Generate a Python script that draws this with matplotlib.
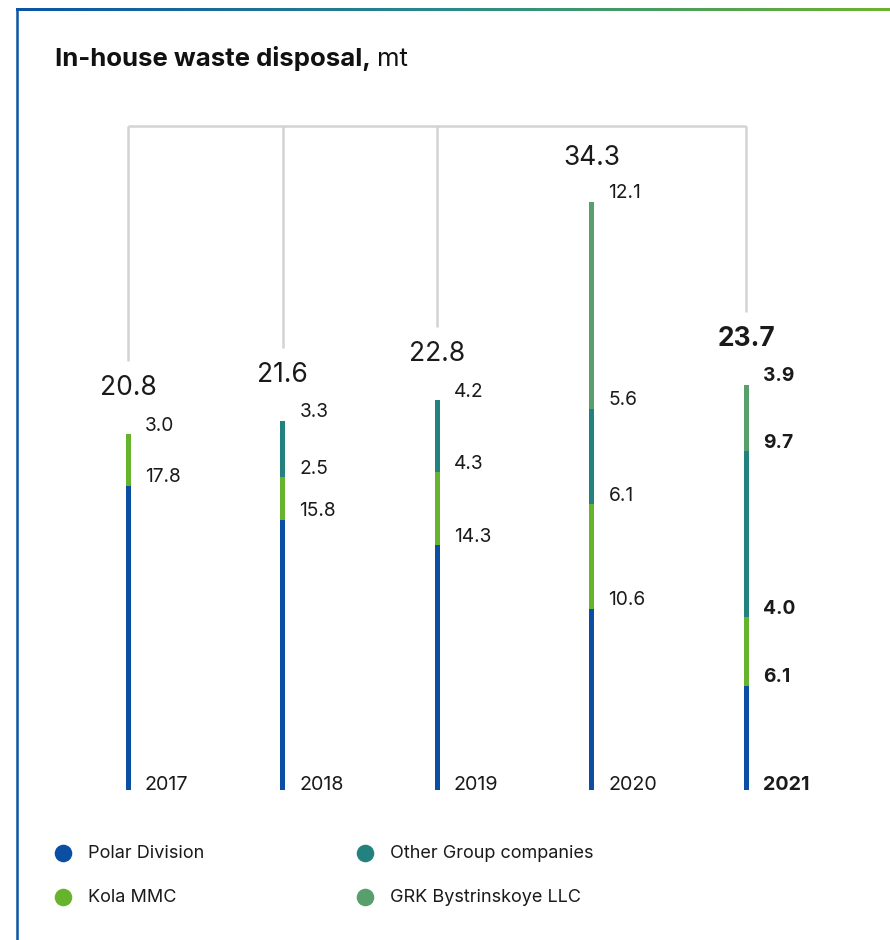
import numpy as np
import matplotlib.pyplot as plt
from matplotlib.colors import LinearSegmentedColormap

plt.rcParams['font.family'] = ['Inter', 'DejaVu Sans']

years = ["2017", "2018", "2019", "2020", "2021"]
polar = [17.8, 15.8, 14.3, 10.6, 6.1]
kola = [3.0, 2.5, 4.3, 6.1, 4.0]
other = [0.0, 3.3, 4.2, 5.6, 9.7]
grk = [0.0, 0.0, 0.0, 12.1, 3.9]
totals = [20.8, 21.6, 22.8, 34.3, 23.7]

series = [
    ("Polar Division", polar, "#0a4fa1"),
    ("Kola MMC", kola, "#66b32e"),
    ("Other Group companies", other, "#23827f"),
    ("GRK Bystrinskoye LLC", grk, "#589f6d"),
]

W, H = 890, 940
fig = plt.figure(figsize=(W / 100, H / 100), dpi=100)

# chart axes: y=0 at pixel 790, 17.1 px per unit
ax_left, ax_right, ax_top, ax_bot = 50, 850, 100, 790
ax = fig.add_axes([ax_left / W, 1 - ax_bot / H, (ax_right - ax_left) / W, (ax_bot - ax_top) / H])
px_unit = 17.1
spacing = 154.5
ax.set_ylim(0, (ax_bot - ax_top) / px_unit)
ax.set_xlim(-(128 - ax_left) / spacing, (ax_right - 128) / spacing)
ax.axis("off")

x = np.arange(len(years))
bar_w = 5 / spacing

# connector lines
top_y = (ax_bot - 126) / px_unit
ax.plot([x[0], x[-1]], [top_y, top_y], color="#d3d3d3", lw=1.8, solid_capstyle="butt", zorder=1)
for i, t in enumerate(totals):
    label_y = t + 46 / px_unit
    end_y = label_y + 27 / px_unit
    if end_y < top_y - 0.5:
        ax.plot([x[i], x[i]], [top_y, end_y], color="#d3d3d3", lw=1.8, solid_capstyle="butt", zorder=1)

bottom = np.zeros(len(years))
for name, vals, col in series:
    vals = np.array(vals)
    ax.bar(x, vals, bar_w, bottom=bottom, color=col, linewidth=0, zorder=2)
    for i, v in enumerate(vals):
        if v > 0:
            bold = "bold" if i == len(years) - 1 else "normal"
            ax.annotate(f"{v:.1f}", (x[i], bottom[i] + v), xytext=(12.2, 6),
                        textcoords="offset points", ha="left", va="center",
                        fontsize=13.8, fontweight=bold, color="#1a1a1a")
    bottom += vals

for i, t in enumerate(totals):
    bold = "bold" if i == len(years) - 1 else "normal"
    ax.annotate(f"{t:.1f}", (x[i], t), xytext=(0, 33), textcoords="offset points",
                ha="center", va="center", fontsize=19, fontweight=bold, color="#1a1a1a")
    ax.annotate(years[i], (x[i], 0), xytext=(12.2, 0), textcoords="offset points",
                ha="left", va="baseline", fontsize=14.2, fontweight=bold, color="#1a1a1a")

# overlay for frame, title, legend (pixel coords)
ov = fig.add_axes([0, 0, 1, 1], zorder=-1)
ov.set_xlim(0, W)
ov.set_ylim(H, 0)
ov.axis("off")

cmap = LinearSegmentedColormap.from_list("frame", ["#0a55a5", "#2b8a8a", "#6ab42d"])
ov.imshow(np.linspace(0, 1, 256)[None, :], cmap=cmap, aspect="auto",
          extent=(16, W, 11, 8.5), interpolation="bilinear")
ov.plot([17, 17], [9, H], color="#0a55a5", lw=1.8)
ov.set_xlim(0, W)
ov.set_ylim(H, 0)

t1 = ov.text(55, 66, "In-house waste disposal,", fontsize=18.5, fontweight="bold",
             va="baseline", ha="left", color="#111111")
fig.canvas.draw()
bb = t1.get_window_extent(renderer=fig.canvas.get_renderer())
ov.text(bb.x1 + 6, 66, "mt", fontsize=18.5, va="baseline", ha="left", color="#111111")

leg_pos = [(63, 853), (63, 897), (365, 853), (365, 897)]
for (name, vals, col), (lx, ly) in zip(series, leg_pos):
    ov.scatter([lx], [ly], s=160, color=col, linewidths=0)
    ov.text(lx + 25, ly, name, fontsize=13, va="center", ha="left", color="#1a1a1a")

fig.savefig("out.png", dpi=100)
